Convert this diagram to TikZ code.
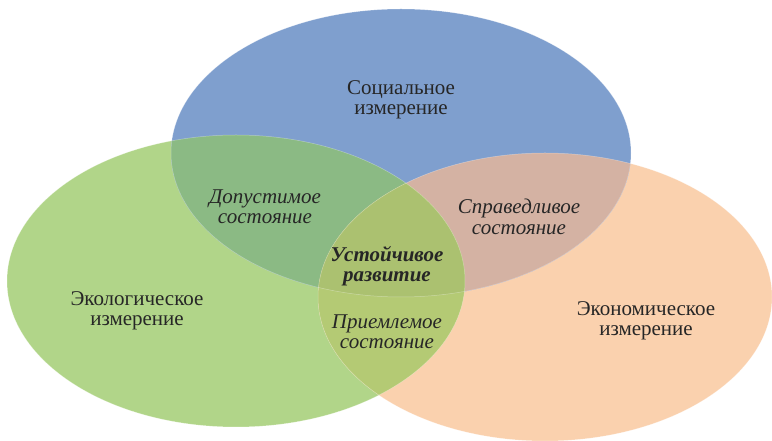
\documentclass[tikz,border=0pt]{standalone}
\usepackage{fontspec}
\setmainfont{Liberation Serif}
\usepackage{xcolor}

\definecolor{socblue}{RGB}{127,159,206}
\definecolor{ecogreen}{RGB}{177,213,137}
\definecolor{econorange}{RGB}{250,209,174}
\definecolor{sgmix}{RGB}{139,186,132}
\definecolor{somix}{RGB}{212,178,163}
\definecolor{gomix}{RGB}{180,202,116}
\definecolor{allmix}{RGB}{171,193,112}

\tikzset{
  socshape/.style={x radius=230pt,y radius=144pt},
  ecoshape/.style={x radius=229pt,y radius=146pt},
  econshape/.style={x radius=227pt,y radius=144pt},
  rim/.style={draw=white,draw opacity=0.35,line width=0.5pt},
  dimtext/.style={align=center,text=black!85,font=\fontsize{21}{20.5}\selectfont},
  statetext/.style={dimtext,font=\fontsize{21}{20.5}\selectfont\itshape},
  coretext/.style={dimtext,font=\fontsize{21}{20.5}\selectfont\bfseries\itshape}
}

\begin{document}
\begin{tikzpicture}[x=1pt,y=1pt]
    \useasboundingbox (0,0) rectangle (772,441);
    \clip (0,0) rectangle (772,441);

    % Centres of the three dimensions
    \coordinate (soc) at (401,288);
    \coordinate (eco) at (236,160);
    \coordinate (econ) at (545,144);

    % Draw the ellipses
    \fill[ecogreen] (eco) ellipse [ecoshape];
    \fill[econorange] (econ) ellipse [econshape];
    \fill[socblue] (soc) ellipse [socshape];

    % Pairwise overlaps
    \begin{scope}
        \clip (soc) ellipse [socshape];
        \fill[sgmix] (eco) ellipse [ecoshape];
        \fill[somix] (econ) ellipse [econshape];
    \end{scope}
    \begin{scope}
        \clip (eco) ellipse [ecoshape];
        \fill[gomix] (econ) ellipse [econshape];
        % Triple overlap
        \clip (econ) ellipse [econshape];
        \fill[allmix] (soc) ellipse [socshape];
    \end{scope}

    % Faint rims
    \draw[rim] (eco) ellipse [ecoshape];
    \draw[rim] (econ) ellipse [econshape];
    \draw[rim] (soc) ellipse [socshape];

    % Dimension labels
    \node[dimtext] (social) at (401,341) {Социальное\\измерение};
    \node[dimtext] (ecological) at (137,130) {Экологическое\\измерение};
    \node[dimtext] (economic) at (646,120) {Экономическое\\измерение};

    % State labels
    \node[statetext] (admissible) at (265,234) {Допустимое\\состояние};
    \node[statetext] (equitable) at (519,224) {Справедливое\\состояние};
    \node[statetext] (acceptable) at (387,109) {Приемлемое\\состояние};
    \node[coretext] (sustainable) at (387,175) {Устойчивое\\развитие};
\end{tikzpicture}
\end{document}
